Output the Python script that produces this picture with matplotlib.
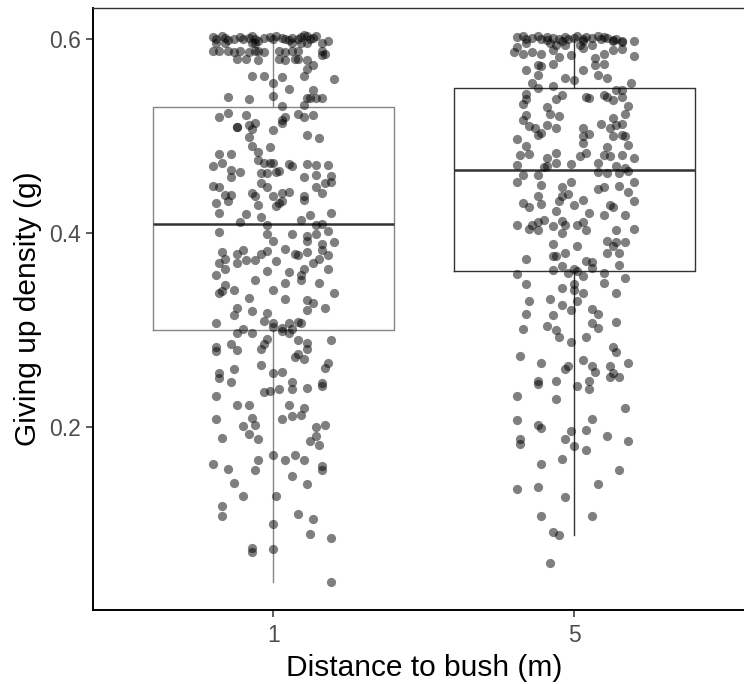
import matplotlib
matplotlib.use("Agg")
import matplotlib.pyplot as plt

plt.rcParams['font.family'] = ['Liberation Sans', 'DejaVu Sans']

categories = ["1", "5"]

# box summaries
q1 = [0.300, 0.361]
median = [0.410, 0.465]
q3 = [0.530, 0.550]
whisker_low = [0.040, 0.089]
whisker_high = [0.600, 0.600]

# jittered points, distance 1 m: horizontal jitter (category units) and GUD (g)
one_dx = [
    -0.20, -0.19, -0.17, -0.16, -0.15, -0.13, -0.11, -0.10, -0.08, -0.07, -0.06, -0.05, -0.03, -0.01,
    0.00, 0.01, 0.03, 0.04, 0.05, 0.06, 0.08, 0.09, 0.10, 0.11, 0.12, 0.13, 0.14,
    -0.19, -0.16, -0.07, -0.06, 0.06, 0.09, 0.11, 0.16, 0.18,
    -0.20, -0.18, -0.15, -0.13, -0.11, -0.08, -0.06, -0.05, -0.03, 0.02, 0.04, 0.06, 0.08, 0.16, 0.16,
    -0.12, -0.09, -0.05, 0.02, 0.04, 0.07, 0.08, 0.11, 0.17,
    0.13, 0.11,
    -0.07, -0.03, 0.03, 0.10, 0.20,
    0.00, 0.05, 0.13,
    -0.15, -0.08, 0.00, 0.11, 0.14, 0.16, 0.12,
    0.03, 0.10,
    -0.18, -0.15, -0.09, 0.08, 0.10, 0.13, 0.03, 0.04,
    -0.12, -0.12, -0.08, -0.06, -0.07, 0.00, 0.03,
    0.11, 0.15, -0.08,
    -0.07, -0.01,
    -0.18, -0.14, -0.05,
    -0.20, -0.17, -0.05, -0.03, -0.01, 0.00, 0.05, 0.06, 0.11, 0.14, 0.18,
    -0.14, -0.11, -0.14, -0.04, -0.02, 0.01, 0.02, 0.10, 0.14, 0.19,
    -0.04, -0.02, -0.20, -0.18, 0.14, 0.17, 0.19,
    -0.16, -0.14, -0.07, -0.06, 0.00, 0.03, 0.05, 0.10, 0.16,
    -0.19, -0.15, -0.05, 0.01, 0.02, 0.03, 0.10,
    -0.18, -0.09, -0.04, 0.12, 0.19,
    -0.11, -0.02, 0.09, 0.14, 0.16,
    -0.18, -0.02, 0.06, 0.11, 0.14, 0.18,
    0.00, 0.11, 0.16, 0.20,
    -0.17, -0.12, -0.10, -0.04, -0.02, 0.04, 0.07, 0.08, 0.11, 0.16, 0.18,
    -0.18, -0.16, -0.12, -0.09, -0.06, 0.01, 0.13, 0.15,
    -0.19, -0.16, -0.02, 0.05, 0.10, 0.09, 0.18,
    -0.06, 0.04, 0.09, 0.15, -0.16,
    -0.18, -0.17, -0.13, 0.00, 0.20,
    -0.08, 0.04, 0.11, 0.13, 0.17, -0.12, -0.13, -0.07, 0.11,
    -0.02, -0.03, 0.00, 0.05, 0.08, 0.09, -0.19,
    -0.10, -0.12, -0.07, 0.00, 0.03, 0.03, 0.06, 0.05,
    -0.02, -0.03, -0.04, 0.08, 0.11, 0.11, 0.19, -0.19, -0.19, -0.14, -0.12,
    0.08, 0.07, 0.10, 0.18,
    0.17, -0.04, -0.13, -0.18, -0.18, 0.00, 0.03,
    -0.14, 0.06, 0.16, 0.16, -0.03, -0.01, 0.02, 0.06, 0.11, -0.19,
    -0.12, -0.08, 0.05, 0.10,
    -0.19, -0.07, 0.03, 0.06, 0.09,
    -0.10, -0.06, 0.14, 0.17,
    -0.17, -0.08, -0.05, 0.14, 0.12, 0.15,
    0.00, -0.20, -0.15, -0.05, -0.06, 0.04, 0.07, 0.10, 0.16, 0.16,
    0.06, -0.13, 0.11,
    -0.10, 0.01,
    -0.17, -0.17, 0.08,
    0.13, 0.00, 0.12, 0.19,
    -0.07, -0.07, 0.00,
    0.19,
]
one_y = [
    0.602, 0.600, 0.603, 0.601, 0.599, 0.600, 0.602, 0.600, 0.601, 0.603, 0.600, 0.598, 0.601, 0.602,
    0.600, 0.603, 0.601, 0.600, 0.599, 0.601, 0.600, 0.602, 0.604, 0.603, 0.600, 0.601, 0.603,
    0.596, 0.596, 0.596, 0.596, 0.596, 0.596, 0.596, 0.596, 0.598,
    0.588, 0.588, 0.588, 0.587, 0.588, 0.587, 0.588, 0.588, 0.587, 0.588, 0.587, 0.588, 0.588, 0.588, 0.584,
    0.580, 0.580, 0.579, 0.580, 0.579, 0.580, 0.580, 0.579, 0.585,
    0.574, 0.569,
    0.562, 0.562, 0.561, 0.562, 0.559,
    0.555, 0.549, 0.548,
    0.541, 0.538, 0.542, 0.540, 0.540, 0.539, 0.539,
    0.531, 0.532,
    0.520, 0.524, 0.522, 0.523, 0.520, 0.522, 0.517, 0.520,
    0.510, 0.510, 0.512, 0.514, 0.508, 0.507, 0.514,
    0.501, 0.498, 0.499,
    0.490, 0.489,
    0.482, 0.482, 0.484,
    0.469, 0.472, 0.476, 0.473, 0.473, 0.473, 0.471, 0.469, 0.471, 0.470, 0.470,
    0.465, 0.463, 0.458, 0.462, 0.462, 0.463, 0.464, 0.458, 0.460, 0.459,
    0.452, 0.448, 0.449, 0.448, 0.448, 0.452, 0.453,
    0.440, 0.440, 0.442, 0.438, 0.438, 0.442, 0.443, 0.438, 0.442,
    0.431, 0.433, 0.429, 0.428, 0.431, 0.433, 0.434,
    0.421, 0.420, 0.417, 0.419, 0.421,
    0.412, 0.409, 0.414, 0.409, 0.410,
    0.401, 0.399, 0.399, 0.397, 0.399, 0.402,
    0.392, 0.392, 0.389, 0.391,
    0.381, 0.379, 0.383, 0.379, 0.382, 0.384, 0.379, 0.378, 0.381, 0.383, 0.378,
    0.369, 0.373, 0.369, 0.372, 0.372, 0.371, 0.369, 0.373,
    0.357, 0.363, 0.361, 0.360, 0.363, 0.357, 0.363,
    0.352, 0.349, 0.352, 0.349, 0.347,
    0.338, 0.341, 0.342, 0.342, 0.338,
    0.333, 0.332, 0.331, 0.328, 0.323, 0.323, 0.316, 0.320, 0.321,
    0.318, 0.310, 0.307, 0.308, 0.309, 0.308, 0.307,
    0.301, 0.297, 0.297, 0.303, 0.302, 0.299, 0.301, 0.297,
    0.291, 0.286, 0.281, 0.290, 0.287, 0.281, 0.290, 0.283, 0.279, 0.286, 0.280,
    0.276, 0.272, 0.270, 0.266,
    0.261, 0.264, 0.260, 0.256, 0.251, 0.256, 0.257,
    0.247, 0.247, 0.246, 0.243, 0.236, 0.237, 0.239, 0.239, 0.240, 0.232,
    0.223, 0.223, 0.223, 0.220,
    0.209, 0.210, 0.209, 0.212, 0.213,
    0.201, 0.202, 0.200, 0.202,
    0.189, 0.193, 0.188, 0.191, 0.186, 0.182,
    0.171, 0.162, 0.157, 0.166, 0.156, 0.166, 0.171, 0.166, 0.160, 0.156,
    0.150, 0.143, 0.142,
    0.129, 0.129,
    0.119, 0.109, 0.111,
    0.105, 0.100, 0.090, 0.086,
    0.076, 0.071, 0.075,
    0.040,
]

# jittered points, distance 5 m
five_dx = [
    -0.19, -0.17, -0.16, -0.14, -0.12, -0.11, -0.09, -0.09, -0.07, -0.05, -0.04, -0.03, -0.02, 0.00,
    0.01, 0.03, 0.03, 0.04, 0.06, 0.08, 0.09, 0.10, 0.11, 0.13, 0.14, 0.16, 0.20,
    -0.19, -0.16, -0.08, -0.06, -0.03, 0.02, 0.06, 0.13, 0.16,
    -0.20, -0.17, -0.14, -0.11, -0.07, -0.01, 0.03, 0.07, 0.10, 0.13, 0.16, 0.20,
    -0.12, -0.07, -0.05, -0.11, 0.07, 0.10,
    -0.16, -0.12, 0.03, 0.08, 0.11, -0.03, 0.00,
    -0.14, -0.12, -0.07, 0.19, 0.14, 0.16,
    -0.16, -0.16, -0.04, 0.04, 0.05, 0.10, 0.11, 0.13, 0.16, -0.17, -0.06,
    -0.09, -0.08, -0.05, -0.16, -0.17, 0.18, 0.17,
    -0.15, -0.13, -0.12, -0.11, -0.09, -0.06, 0.03, 0.09, 0.12, 0.14, 0.13, 0.16,
    -0.19, -0.16, 0.03, 0.05, 0.03, 0.13, 0.16, 0.17, 0.18, 0.11,
    -0.18, -0.15, -0.09, -0.06, 0.02, 0.04, 0.10, 0.12, 0.16, 0.20, -0.06,
    -0.19, -0.10, -0.09, -0.01, 0.08, 0.14, 0.17, 0.08, 0.11, 0.15, 0.18,
    -0.17, -0.12, -0.11, -0.19, -0.04, -0.01, 0.08, 0.10, 0.15, 0.18, 0.20, -0.12, -0.04, -0.02,
    -0.17, -0.15, -0.11, -0.05, 0.00, 0.03, 0.20, 0.12, 0.13,
    -0.06, 0.05, 0.10, 0.17,
    -0.19, -0.15, -0.14, -0.12, -0.10, -0.07, -0.04, -0.03, 0.01, 0.03, 0.04, -0.12, -0.04, 0.14, 0.20,
    -0.07, 0.01, 0.11, 0.14, 0.13, 0.17,
    -0.07, -0.06, -0.03, 0.11, 0.15, -0.16,
    0.04, 0.06, 0.06, -0.04, 0.00, 0.01, -0.02, 0.15, -0.07,
    -0.19, -0.16, 0.03, 0.00, 0.10, 0.10, 0.17, -0.04,
    0.00, 0.03, 0.14, -0.15, -0.08, -0.04, 0.01,
    0.06, 0.08, -0.01, -0.16, -0.07,
    0.06, 0.14, 0.08, -0.17, -0.09, -0.06,
    -0.05, -0.01, 0.04, 0.13,
    0.14, -0.18, -0.11, -0.02, -0.03, 0.03, 0.06, 0.07, 0.12, 0.13, 0.12, 0.15, 0.18,
    -0.12, -0.12, -0.06, 0.01, 0.05, 0.05, -0.19, -0.06, 0.17,
    -0.19, -0.12, -0.11, 0.06, -0.01, 0.04, 0.11, -0.03, 0.00, 0.04, 0.18, -0.18, -0.18,
    -0.11, -0.04, 0.15, 0.08, -0.19, -0.12, -0.03, -0.11, 0.06,
    -0.07, -0.05, -0.08,
]
five_y = [
    0.602, 0.603, 0.600, 0.601, 0.603, 0.600, 0.602, 0.599, 0.601, 0.600, 0.598, 0.602, 0.600, 0.601,
    0.603, 0.600, 0.598, 0.602, 0.601, 0.603, 0.600, 0.602, 0.601, 0.599, 0.600, 0.598, 0.598,
    0.592, 0.596, 0.596, 0.594, 0.594, 0.594, 0.594, 0.598, 0.597,
    0.587, 0.585, 0.587, 0.585, 0.589, 0.584, 0.591, 0.581, 0.585, 0.589, 0.590, 0.583,
    0.574, 0.575, 0.582, 0.573, 0.574, 0.575,
    0.568, 0.563, 0.568, 0.563, 0.560, 0.560, 0.558,
    0.555, 0.550, 0.552, 0.555, 0.548, 0.548,
    0.544, 0.538, 0.543, 0.541, 0.539, 0.543, 0.541, 0.537, 0.541, 0.533, 0.538,
    0.530, 0.523, 0.521, 0.522, 0.517, 0.531, 0.523,
    0.511, 0.509, 0.501, 0.503, 0.512, 0.509, 0.509, 0.513, 0.509, 0.512, 0.519, 0.513,
    0.497, 0.490, 0.500, 0.502, 0.493, 0.500, 0.501, 0.500, 0.491, 0.489,
    0.481, 0.482, 0.478, 0.483, 0.480, 0.483, 0.481, 0.480, 0.481, 0.478, 0.473,
    0.470, 0.468, 0.469, 0.471, 0.472, 0.469, 0.467, 0.463, 0.462, 0.462, 0.464,
    0.460, 0.460, 0.450, 0.453, 0.448, 0.453, 0.446, 0.448, 0.449, 0.443, 0.453, 0.438, 0.438, 0.441,
    0.431, 0.427, 0.430, 0.433, 0.429, 0.434, 0.433, 0.429, 0.427,
    0.423, 0.421, 0.419, 0.419,
    0.409, 0.404, 0.409, 0.412, 0.414, 0.408, 0.413, 0.409, 0.409, 0.412, 0.403, 0.403, 0.400, 0.403, 0.404,
    0.389, 0.387, 0.392, 0.391, 0.387, 0.391,
    0.377, 0.377, 0.380, 0.380, 0.380, 0.373,
    0.371, 0.370, 0.364, 0.366, 0.363, 0.361, 0.359, 0.367, 0.362,
    0.358, 0.348, 0.356, 0.348, 0.359, 0.349, 0.354, 0.344,
    0.342, 0.338, 0.338, 0.330, 0.332, 0.326, 0.330,
    0.322, 0.317, 0.321, 0.317, 0.316,
    0.308, 0.309, 0.302, 0.301, 0.304, 0.300,
    0.293, 0.288, 0.293, 0.283,
    0.278, 0.273, 0.266, 0.263, 0.260, 0.269, 0.263, 0.257, 0.263, 0.256, 0.252, 0.252, 0.266,
    0.248, 0.245, 0.248, 0.243, 0.248, 0.239, 0.232, 0.229, 0.220,
    0.208, 0.202, 0.199, 0.209, 0.196, 0.197, 0.191, 0.188, 0.181, 0.177, 0.186, 0.188, 0.183,
    0.162, 0.167, 0.156, 0.142, 0.136, 0.138, 0.128, 0.109, 0.109,
    0.092, 0.089, 0.060,
]

fig = plt.figure(figsize=(7.44, 6.84), dpi=100)
ax = fig.add_axes([93 / 744, 1 - 610 / 684, (754.7 - 93) / 744, (610 - 8) / 684])

positions = [1, 2]
box_colors = ["#858585", "#333333"]
for i, pos in enumerate(positions):
    stats = [{"q1": q1[i], "med": median[i], "q3": q3[i],
              "whislo": whisker_low[i], "whishi": whisker_high[i]}]
    c = box_colors[i]
    ax.bxp(stats, positions=[pos], widths=0.8, showfliers=False, showcaps=False,
           boxprops=dict(color=c, linewidth=1.0),
           whiskerprops=dict(color=c, linewidth=1.0),
           medianprops=dict(color="#333333", linewidth=1.8),
           manage_ticks=False)

ax.scatter([positions[0] + d for d in one_dx], one_y, s=44, color="black",
           alpha=0.5, linewidths=0, zorder=3)
ax.scatter([positions[1] + d for d in five_dx], five_y, s=44, color="black",
           alpha=0.5, linewidths=0, zorder=3)

ax.set_xlim(0.4, 2.6)
ax.set_ylim(0.0116, 0.6323)
ax.set_xticks(positions)
ax.set_xticklabels(categories)
ax.set_yticks([0.2, 0.4, 0.6])
ax.set_yticklabels(["0.2", "0.4", "0.6"])

for side in ["left", "bottom"]:
    ax.spines[side].set_linewidth(1.4)
    ax.spines[side].set_color("black")
ax.spines["top"].set_linewidth(1.0)
ax.spines["top"].set_color("#333333")
ax.spines["right"].set_visible(False)

ax.tick_params(axis="both", length=5, width=1.1, color="#333333",
               labelcolor="#4d4d4d", labelsize=16.5, pad=4)
ax.tick_params(axis="x", pad=5)
ax.set_xlabel("Distance to bush (m)", fontsize=21.5, labelpad=5)
ax.set_ylabel("Giving up density (g)", fontsize=21.5, labelpad=5)

fig.savefig("out.png", dpi=100)
